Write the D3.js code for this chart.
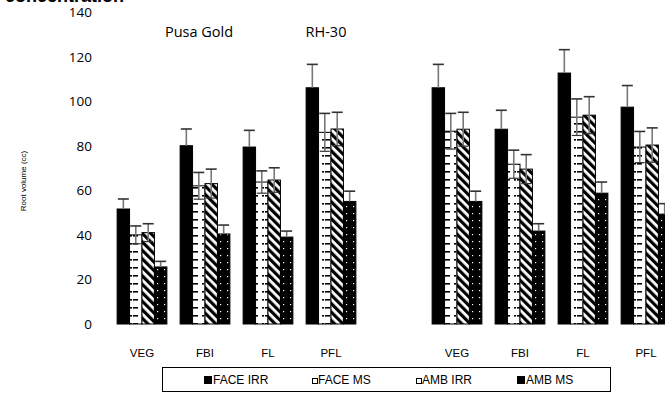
<!DOCTYPE html>
<html>
<head>
<meta charset="utf-8">
<script src="https://cdn.jsdelivr.net/npm/d3@7"></script>
<style>
body { margin: 0; background: #fff; }
svg { display: block; }
</style>
</head>
<body>
<svg width="665" height="393"></svg>
<script>
var stages = ['VEG', 'FBI', 'FL', 'PFL']
var cultivars = ['Pusa Gold', 'RH-30']
var series = ['FACE IRR', 'FACE MS', 'AMB IRR', 'AMB MS']
var yTicks = [0, 20, 40, 60, 80, 100, 120, 140]

// root volume (cc), rows = stages, cols = series
var pusaGold = [
    [51.6, 40.0, 41.0, 25.6],
    [80.0, 62.0, 63.0, 40.4],
    [79.4, 63.7, 64.6, 39.0],
    [106.0, 86.0, 87.5, 55.0]
]
var pusaGoldErr = [
    [4.5, 4.0, 4.0, 2.5],
    [7.5, 6.0, 6.5, 4.0],
    [7.5, 5.0, 5.5, 2.7],
    [10.5, 8.5, 7.5, 4.6]
]
var rh30 = [
    [106.0, 86.5, 87.4, 55.0],
    [87.4, 71.7, 69.5, 41.7],
    [112.6, 92.8, 93.7, 58.7],
    [97.3, 79.4, 80.3, 49.3]
]
var rh30Err = [
    [10.5, 8.0, 7.6, 4.6],
    [8.5, 6.3, 6.5, 3.3],
    [10.5, 8.2, 8.3, 5.0],
    [9.7, 7.0, 7.7, 4.7]
]

var svg = d3.select('svg')
var w = 665, h = 393

// slots: 4 stages, a gap, 4 stages
var slots = []
stages.forEach(s => slots.push('a-' + s))
slots.push('gap')
stages.forEach(s => slots.push('b-' + s))

var xs = d3.scaleBand().domain(slots).range([110.5, 677.5]).paddingInner(0.21).paddingOuter(0.105)
var xsub = d3.scaleBand().domain(series).range([0, xs.bandwidth()])
var ys = d3.scaleLinear().domain([0, 140]).range([324, 12])

// patterns
var defs = svg.append('defs')
var pMs = defs.append('pattern').attr('id', 'p-ms').attr('patternUnits', 'userSpaceOnUse')
    .attr('width', 12).attr('height', 8)
pMs.append('rect').attr('width', 12).attr('height', 8).attr('fill', '#fff')
pMs.append('rect').attr('x', 1).attr('y', 3).attr('width', 5).attr('height', 1.6).attr('fill', '#000')
pMs.append('rect').attr('x', 10).attr('y', 3).attr('width', 2).attr('height', 1.6).attr('fill', '#000')

var pIrr = defs.append('pattern').attr('id', 'p-irr').attr('patternUnits', 'userSpaceOnUse')
    .attr('width', 6).attr('height', 6).attr('patternTransform', 'rotate(-45)')
pIrr.append('rect').attr('width', 6).attr('height', 6).attr('fill', '#fff')
pIrr.append('rect').attr('width', 3.2).attr('height', 6).attr('fill', '#000')

var pDot = defs.append('pattern').attr('id', 'p-dot').attr('patternUnits', 'userSpaceOnUse')
    .attr('width', 7).attr('height', 7)
pDot.append('rect').attr('width', 7).attr('height', 7).attr('fill', '#000')
pDot.append('rect').attr('x', 3).attr('y', 3).attr('width', 1.2).attr('height', 1.2).attr('fill', '#fff')

var fills = {'FACE IRR': '#000', 'FACE MS': 'url(#p-ms)', 'AMB IRR': 'url(#p-irr)', 'AMB MS': 'url(#p-dot)'}
var darkFill = {'FACE IRR': true, 'FACE MS': false, 'AMB IRR': false, 'AMB MS': true}

// flatten data
var bars = []
;[[pusaGold, pusaGoldErr, 'a-'], [rh30, rh30Err, 'b-']].forEach(g => {
    stages.forEach((st, i) => {
        series.forEach((se, j) => {
            bars.push({slot: g[2] + st, series: se, v: g[0][i][j], e: g[1][i][j]})
        })
    })
})

// title, clipped at top
svg.append('text').attr('x', 124).attr('y', 2).attr('text-anchor', 'end')
    .style('font-family', 'Liberation Sans, Arial, sans-serif').style('font-weight', 'bold')
    .style('font-size', '18px').text('CO2 concentration')

// y axis labels
svg.append('g').selectAll('text').data(yTicks).enter().append('text')
    .attr('x', 92).attr('y', d => ys(d) + 5).attr('text-anchor', 'end')
    .style('font-family', 'Open Sans, sans-serif').style('font-size', '13.5px').style('fill', '#000')
    .text(d => d)

svg.append('text').attr('transform', 'translate(26,181) rotate(-90)').attr('text-anchor', 'middle')
    .style('font-family', 'Liberation Sans, Arial, sans-serif').style('font-size', '8px')
    .text('Root volume  (cc)')

// cultivar labels
svg.append('text').attr('x', 199).attr('y', 37).attr('text-anchor', 'middle')
    .style('font-family', 'Open Sans, sans-serif').style('font-size', '14.5px').text(cultivars[0])
svg.append('text').attr('x', 326).attr('y', 37).attr('text-anchor', 'middle')
    .style('font-family', 'Open Sans, sans-serif').style('font-size', '14.5px').text(cultivars[1])

// bars
var gb = svg.append('g')
gb.selectAll('rect').data(bars).enter().append('rect')
    .attr('x', d => xs(d.slot) + xsub(d.series))
    .attr('width', xsub.bandwidth())
    .attr('y', d => ys(d.v))
    .attr('height', d => ys(0) - ys(d.v))
    .attr('fill', d => fills[d.series])
    .attr('stroke', '#000').attr('stroke-width', 1)

// error bars
var ge = svg.append('g').selectAll('g').data(bars).enter().append('g')
    .attr('transform', d => `translate(${xs(d.slot) + xsub(d.series) + xsub.bandwidth() / 2},0)`)
ge.append('line')
    .attr('y1', d => darkFill[d.series] ? ys(d.v) : ys(d.v - d.e))
    .attr('y2', d => ys(d.v + d.e))
    .attr('stroke', '#777').attr('stroke-width', 1.6)
ge.append('line').attr('x1', -5.5).attr('x2', 5.5)
    .attr('y1', d => ys(d.v + d.e)).attr('y2', d => ys(d.v + d.e))
    .attr('stroke', '#333').attr('stroke-width', 1.6)
ge.filter(d => !darkFill[d.series]).append('line').attr('x1', -5).attr('x2', 5)
    .attr('y1', d => ys(d.v - d.e)).attr('y2', d => ys(d.v - d.e))
    .attr('stroke', '#333').attr('stroke-width', 1.2)

// category labels
svg.append('g').selectAll('text').data(slots.filter(s => s != 'gap')).enter().append('text')
    .attr('x', d => xs(d) + xs.bandwidth() / 2).attr('y', 357).attr('text-anchor', 'middle')
    .style('font-family', 'Liberation Sans, Arial, sans-serif')
    .style('font-size', '11.5px')
    .text(d => d.slice(2))

// legend
var lg = svg.append('g')
lg.append('rect').attr('x', 162.5).attr('y', 367.5).attr('width', 448).attr('height', 24)
    .attr('fill', 'none').attr('stroke', '#000').attr('stroke-width', 1)
var legX = [204, 312, 416, 517]
var li = lg.selectAll('.li').data(series).enter().append('g')
    .attr('transform', (d, i) => `translate(${legX[i]},376)`)
li.append('rect').attr('x', 0.5).attr('y', d => darkFill[d] ? 0.5 : 2.5)
    .attr('width', d => darkFill[d] ? 7 : 5).attr('height', d => darkFill[d] ? 7 : 5)
    .attr('fill', d => darkFill[d] ? '#000' : '#fff').attr('stroke', '#000').attr('stroke-width', 1)
li.append('text').attr('x', d => darkFill[d] ? 9 : 6).attr('y', 8)
    .style('font-family', 'Liberation Sans, Arial, sans-serif')
    .style('font-size', '12px')
    .text(d => d)
</script>
</body>
</html>
